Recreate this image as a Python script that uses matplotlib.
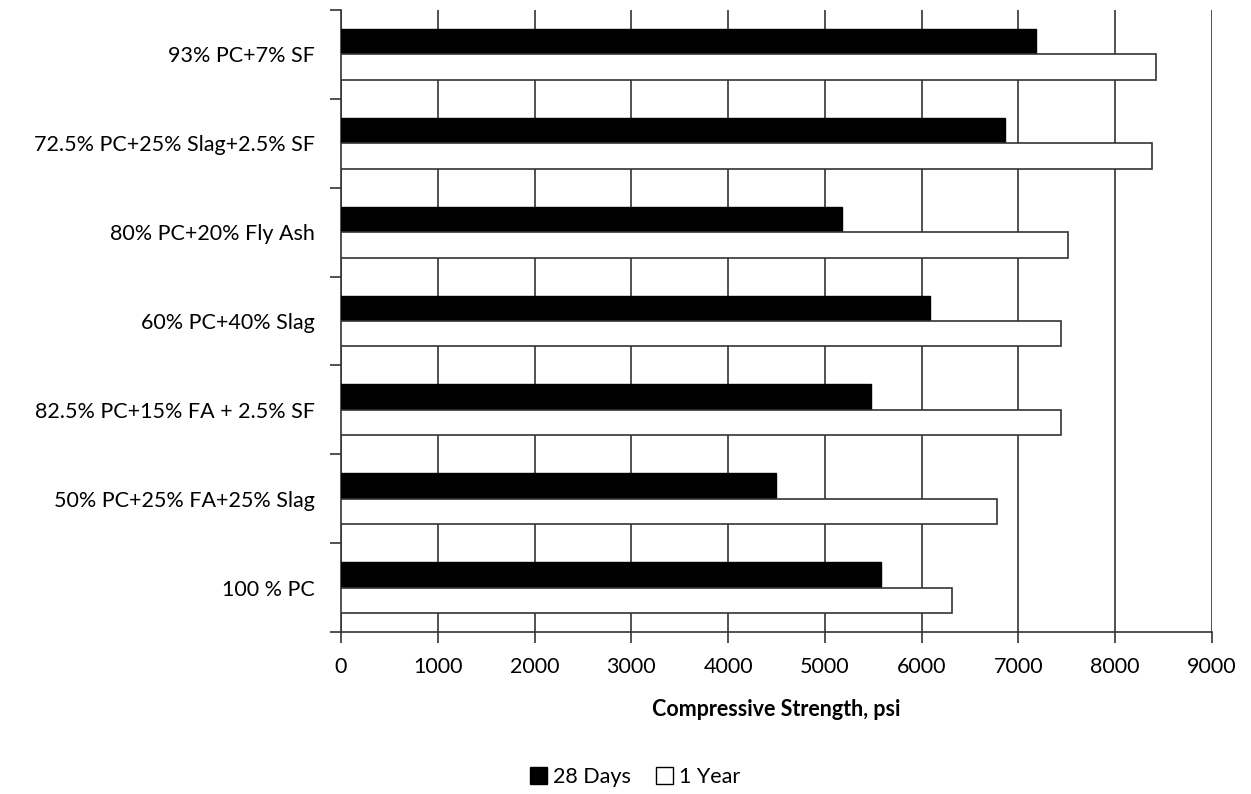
import numpy as np
import matplotlib.pyplot as plt
from matplotlib.patches import Patch

plt.rcParams['font.family'] = ['Lato', 'DejaVu Sans']

# Data (top to bottom as shown)
mixes = ["93% PC+7% SF", "72.5% PC+25% Slag+2.5% SF", "80% PC+20% Fly Ash",
         "60% PC+40% Slag", "82.5% PC+15% FA + 2.5% SF", "50% PC+25% FA+25% Slag",
         "100 % PC"]
days28 = [7180, 6865, 5175, 6085, 5475, 4490, 5580]
year1 = [8420, 8380, 7515, 7440, 7440, 6775, 6310]

fs = 15.5

fig = plt.figure(figsize=(12.51, 7.94), dpi=100)
ax = fig.add_axes([341 / 1251, 1 - 632 / 794, 871 / 1251, 622 / 794])

n = len(mixes)
pos = np.arange(n)[::-1]  # first item at top
h = 0.2857
ax.barh(pos + h / 2, days28, height=h, color='black', edgecolor='black', linewidth=1, zorder=3)
ax.barh(pos - h / 2, year1, height=h, color='white', edgecolor='#333333', linewidth=1.2, zorder=3)

ax.set_xlim(0, 9000)
ax.set_ylim(-0.5, n - 0.5)
ax.set_xticks(np.arange(0, 9001, 1000))
ax.set_xticklabels([str(v) for v in range(0, 9001, 1000)], fontsize=fs)
ax.xaxis.grid(True, color='#333333', linewidth=1.2, zorder=0)

# category labels centered, ticks at boundaries
ax.set_yticks(np.arange(n + 1) - 0.5)
ax.set_yticklabels([])
ax.set_yticks(pos, minor=True)
ax.set_yticklabels(mixes, minor=True, fontsize=fs)
ax.tick_params(axis='y', which='minor', length=0, pad=19)
ax.tick_params(axis='y', which='major', length=8, width=1.2, direction='out', color='#333333')
ax.tick_params(axis='x', length=8, width=1.2, direction='out', color='#333333', pad=10)

for s in ['top', 'right']:
    ax.spines[s].set_visible(False)
for s in ['left', 'bottom']:
    ax.spines[s].set_color('#333333')
    ax.spines[s].set_linewidth(1.2)

ax.set_xlabel("Compressive Strength, psi", fontsize=fs, fontweight='bold', labelpad=16)

handles = [Patch(facecolor='black', edgecolor='black', label='28 Days'),
           Patch(facecolor='white', edgecolor='black', label='1 Year')]
fig.legend(handles=handles, loc='center', bbox_to_anchor=(635 / 1251, 1 - 777 / 794),
           ncol=2, frameon=False, fontsize=fs, handlelength=0.8, handleheight=0.8,
           handletextpad=0.25, columnspacing=1.2)

fig.savefig("out.png", dpi=100)
